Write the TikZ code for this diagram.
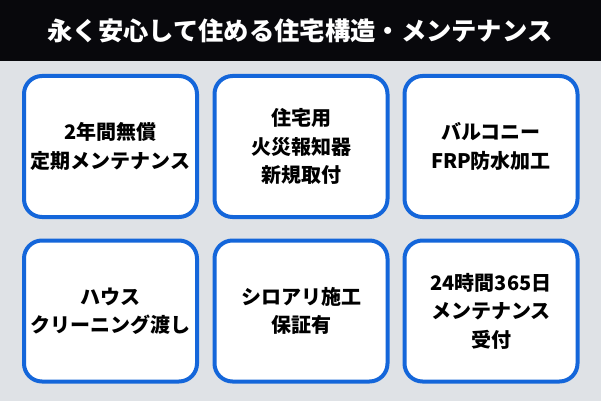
\documentclass[tikz,border=0pt]{standalone}
\usepackage{fontspec}
\setmainfont{Noto Sans CJK JP}
\definecolor{bggray}{HTML}{DFE2E6}
\definecolor{headblack}{HTML}{08080C}
\definecolor{boxblue}{HTML}{1466DA}
\tikzset{
  itembox/.style={draw=boxblue, line width=4pt, fill=white, rounded corners=18pt,
    minimum width=173pt, minimum height=141pt, align=center, text=black,
    font=\fontsize{20pt}{28.5pt}\selectfont\bfseries},
  headtitle/.style={text=white, font=\fontsize{25.3pt}{30pt}\selectfont\bfseries}
}
\begin{document}
\begin{tikzpicture}[x=1pt, y=-1pt, line join=round]
	\useasboundingbox (0,0) rectangle (601,401);
	\fill[bggray] (0,0) rectangle (601,401);
	\fill[headblack] (0,0) rectangle (601,61);
	\node[headtitle] (title) at (300,31) {永く安心して住める住宅構造・メンテナンス};
	% upper row
	\node[itembox] (warranty) at (110.5,146.5) {2年間無償\\定期メンテナンス};
	\node[itembox] (alarm) at (301,146.5) {住宅用\\火災報知器\\新規取付};
	\node[itembox] (balcony) at (491,146.5) {バルコニー\\FRP防水加工};
	% lower row
	\node[itembox] (cleaning) at (110.5,311) {ハウス\\クリーニング渡し};
	\node[itembox] (termite) at (301,311) {シロアリ施工\\保証有};
	\node[itembox] (support) at (491,311) {24時間365日\\メンテナンス\\受付};
\end{tikzpicture}
\end{document}
